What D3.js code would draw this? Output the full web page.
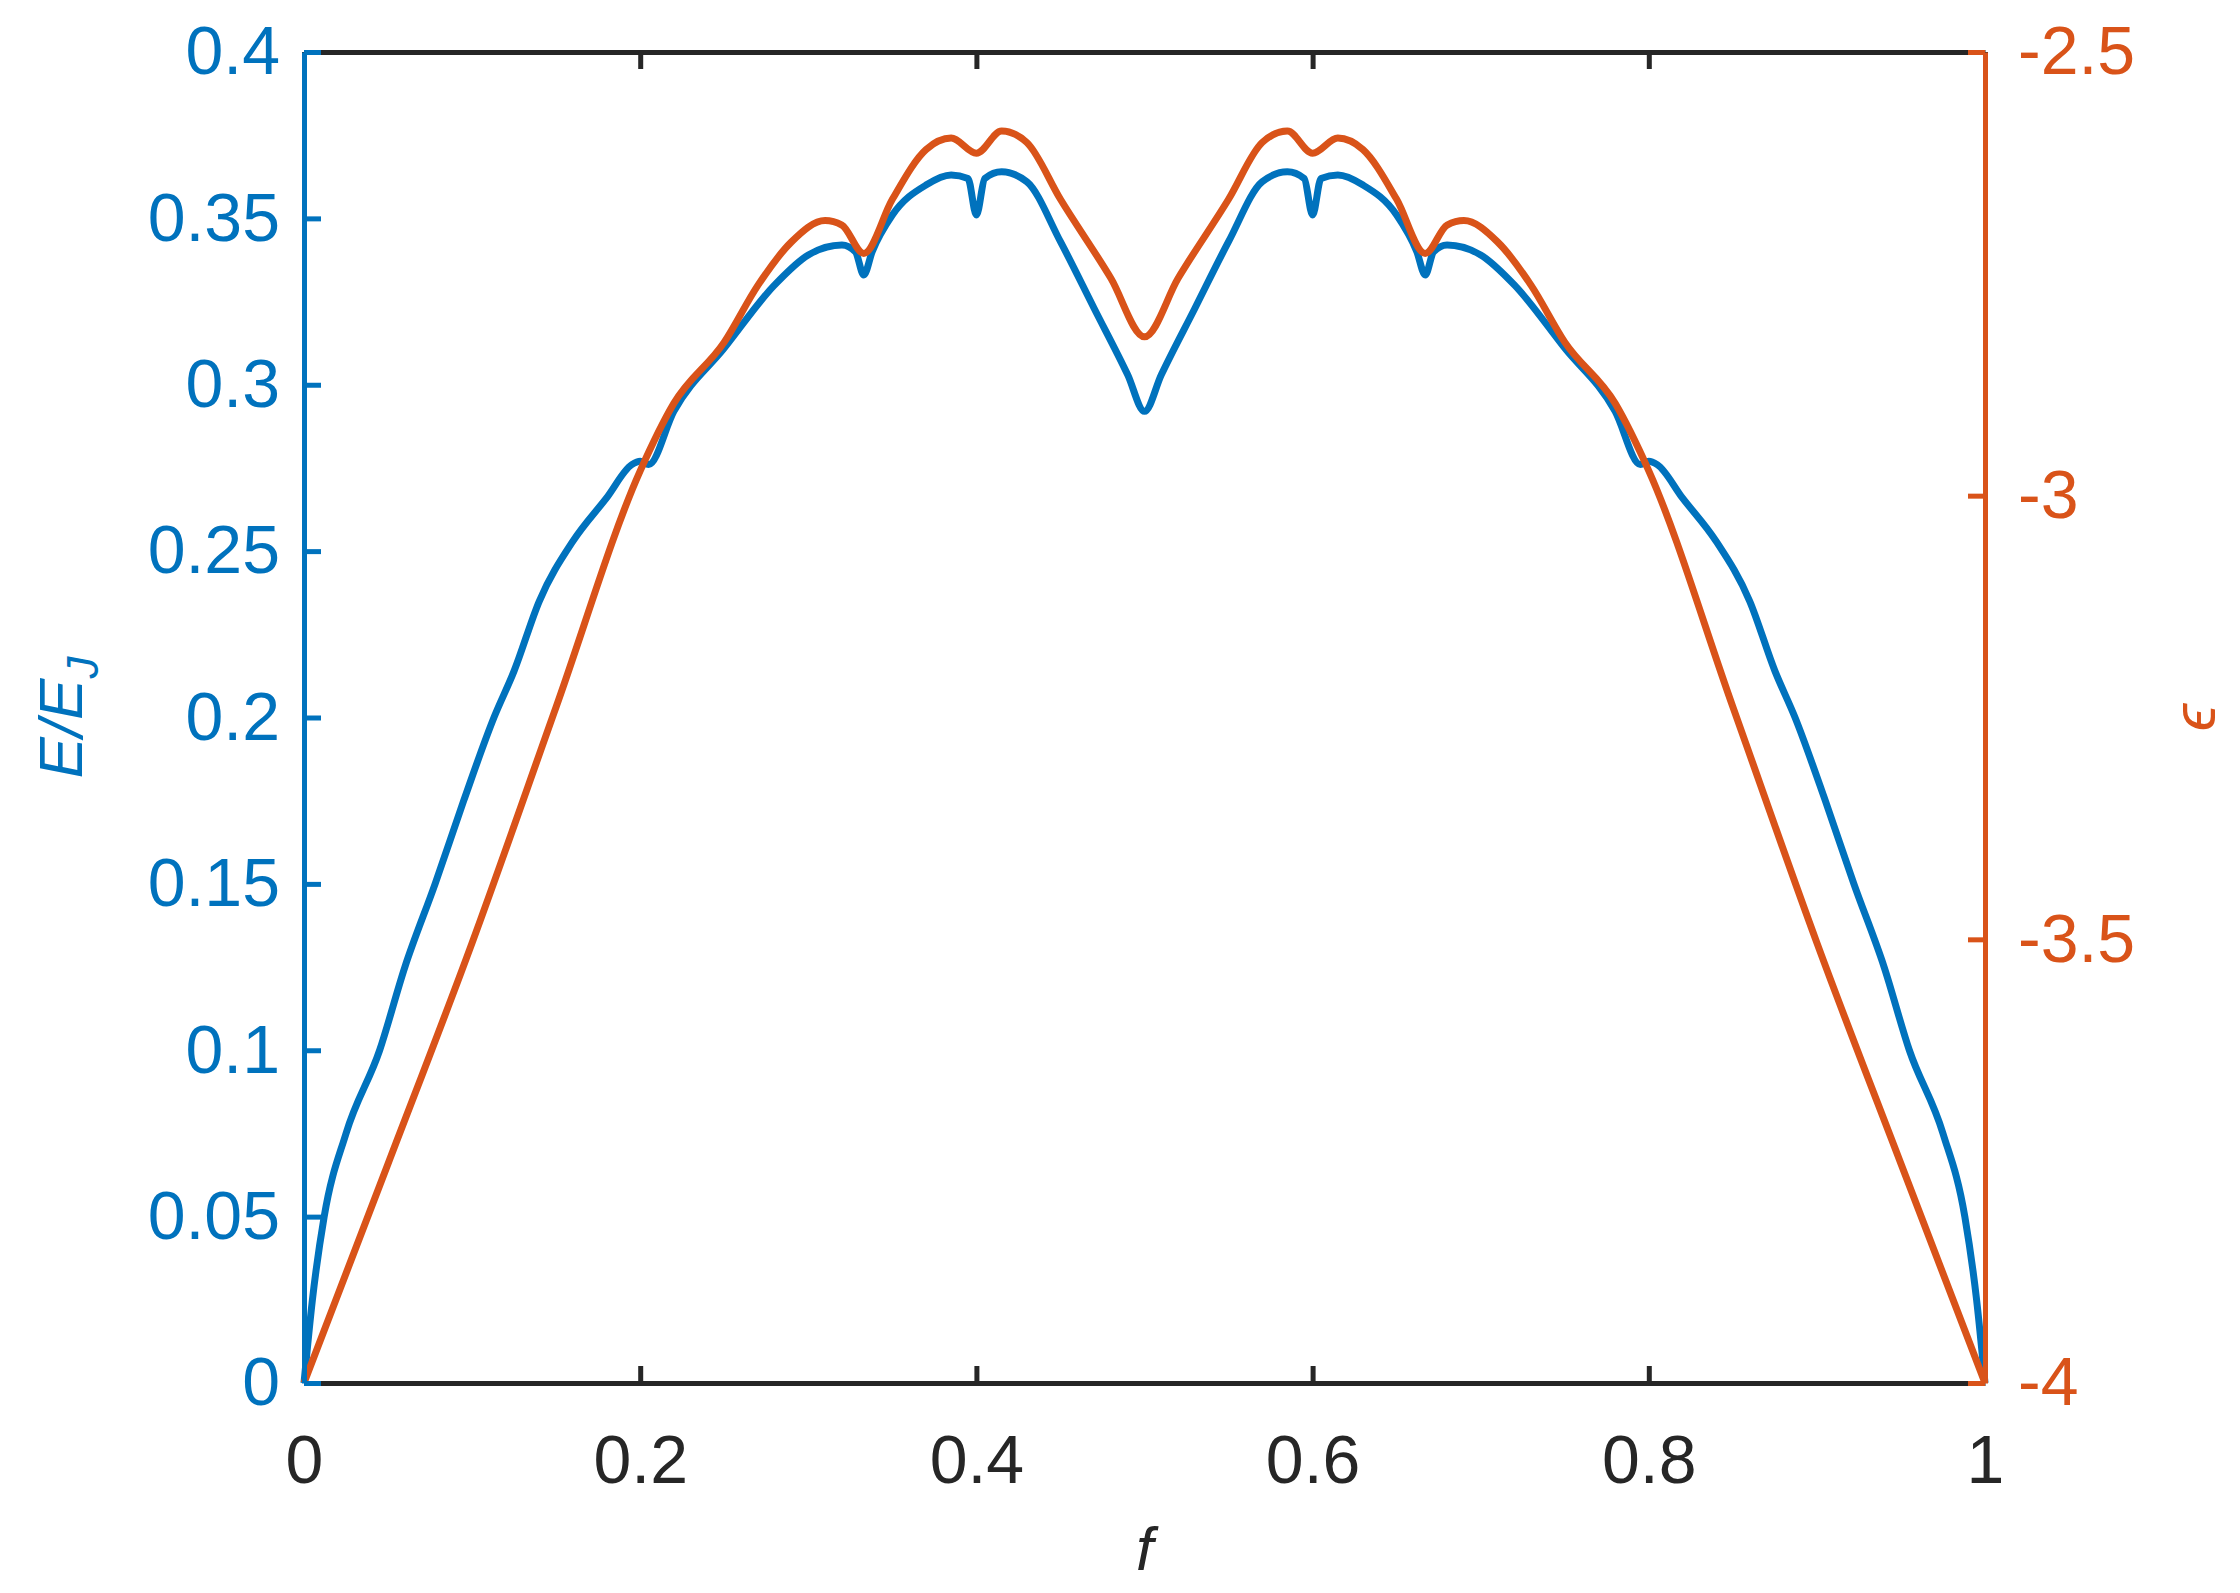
<!DOCTYPE html>
<html><head><meta charset="utf-8">
<script src="https://cdn.jsdelivr.net/npm/d3@7"></script>
<style>body{margin:0;background:#fff}svg{display:block}text{font-family:"Liberation Sans",Arial,sans-serif}</style>
</head><body><div id="c"></div>
<script>
// left half of curves (symmetric about f=0.5)
const fHalf = [0,0.005,0.012,0.025,0.045,0.06,0.078,0.095,0.113,0.125,0.14,0.16,0.18,0.195,0.2,0.205,0.22,0.25,0.28,0.3,0.32,0.328,0.333,0.338,0.35,0.37,0.385,0.395,0.4,0.405,0.415,0.43,0.45,0.47,0.49,0.5];
const energyHalf = [0,0.025,0.05,0.075,0.1,0.125,0.15,0.175,0.2,0.214,0.235,0.253,0.266,0.276,0.277,0.276,0.292,0.311,0.330,0.339,0.342,0.340,0.333,0.340,0.351,0.360,0.363,0.362,0.351,0.362,0.364,0.361,0.343,0.323,0.303,0.292];
const fRed = [0,0.05,0.1,0.15,0.2,0.22,0.25,0.27,0.29,0.31,0.32,0.333,0.35,0.37,0.385,0.4,0.415,0.43,0.45,0.48,0.5];
const epsHalf = [-4,-3.753,-3.504,-3.238,-2.972,-2.896,-2.827,-2.763,-2.714,-2.690,-2.695,-2.727,-2.666,-2.610,-2.597,-2.614,-2.589,-2.602,-2.666,-2.755,-2.821];
const xTicks = [0,0.2,0.4,0.6,0.8,1];
const yLeftTicks = [0,0.05,0.1,0.15,0.2,0.25,0.3,0.35,0.4];
const yRightTicks = [-4,-3.5,-3,-2.5];

function mirror(fs, vs){
  const a = fs.map((f,i)=>[f,vs[i]]);
  const b = fs.slice(0,-1).map((f,i)=>[1-f,vs[i]]).reverse();
  return a.concat(b);
}
const blue = mirror(fHalf, energyHalf), red = mirror(fRed, epsHalf);

const W=2240,H=1593, L=304,R=1985,T=52,B=1383;
const BLUE="#0072BD", ORANGE="#D95319", K="#262626";
const svg=d3.select("#c").append("svg").attr("width",W).attr("height",H);
const x=d3.scaleLinear().domain([0,1]).range([L,R]);
const yl=d3.scaleLinear().domain([0,0.4]).range([B,T]);
const yr=d3.scaleLinear().domain([-4,-2.5]).range([B,T]);
const fs=68;
const fmt=d=>String(d);

svg.append("path").datum(blue).attr("fill","none").attr("stroke",BLUE).attr("stroke-width",7).attr("stroke-linejoin","round")
  .attr("d",d3.line().curve(d3.curveMonotoneX).x(d=>x(d[0])).y(d=>yl(d[1])));
svg.append("path").datum(red).attr("fill","none").attr("stroke",ORANGE).attr("stroke-width",7).attr("stroke-linejoin","round")
  .attr("d",d3.line().curve(d3.curveMonotoneX).x(d=>x(d[0])).y(d=>yr(d[1])));

const gx=svg.append("g").attr("transform",`translate(0,${B})`).call(d3.axisBottom(x).tickValues(xTicks).tickFormat(fmt).tickSizeInner(-17).tickSizeOuter(0).tickPadding(52));
gx.select(".domain").attr("stroke",K).attr("stroke-width",5);
gx.selectAll(".tick line").attr("stroke",K).attr("stroke-width",5);
gx.selectAll("text").attr("fill",K).style("font-size",fs+"px").style("font-family","Liberation Sans, Arial");
const gt=svg.append("g").attr("transform",`translate(0,${T})`).call(d3.axisTop(x).tickValues(xTicks).tickFormat("").tickSizeInner(-17).tickSizeOuter(0));
gt.select(".domain").attr("stroke",K).attr("stroke-width",5);
gt.selectAll(".tick line").attr("stroke",K).attr("stroke-width",5);

const gl=svg.append("g").attr("transform",`translate(${L},0)`).call(d3.axisLeft(yl).tickValues(yLeftTicks).tickFormat(fmt).tickSizeInner(-17).tickSizeOuter(0).tickPadding(24));
gl.select(".domain").attr("stroke",BLUE).attr("stroke-width",5);
gl.selectAll(".tick line").attr("stroke",BLUE).attr("stroke-width",5);
gl.selectAll("text").attr("fill",BLUE).style("font-size",fs+"px").style("font-family","Liberation Sans, Arial");

const gr=svg.append("g").attr("transform",`translate(${R},0)`).call(d3.axisRight(yr).tickValues(yRightTicks).tickFormat(fmt).tickSizeInner(-17).tickSizeOuter(0).tickPadding(33));
gr.select(".domain").attr("stroke",ORANGE).attr("stroke-width",5);
gr.selectAll(".tick line").attr("stroke",ORANGE).attr("stroke-width",5);
gr.selectAll("text").attr("fill",ORANGE).style("font-size",fs+"px").style("font-family","Liberation Sans, Arial");

const yl1=svg.append("text").attr("transform",`translate(82,${(T+B)/2}) rotate(-90)`).attr("text-anchor","middle")
  .attr("fill",BLUE).style("font-size","62px").style("font-style","italic");
yl1.append("tspan").text("E/E");
yl1.append("tspan").attr("dy",16).style("font-size","44px").text("J");
svg.append("text").attr("transform",`translate(2215,${(T+B)/2}) rotate(-90)`).attr("text-anchor","middle")
  .attr("fill",ORANGE).style("font-size","62px").style("font-style","italic").text("ϵ");
svg.append("text").attr("x",(L+R)/2).attr("y",1570).attr("text-anchor","middle")
  .attr("fill",K).style("font-size","62px").style("font-style","italic").text("f");
</script></body></html>
